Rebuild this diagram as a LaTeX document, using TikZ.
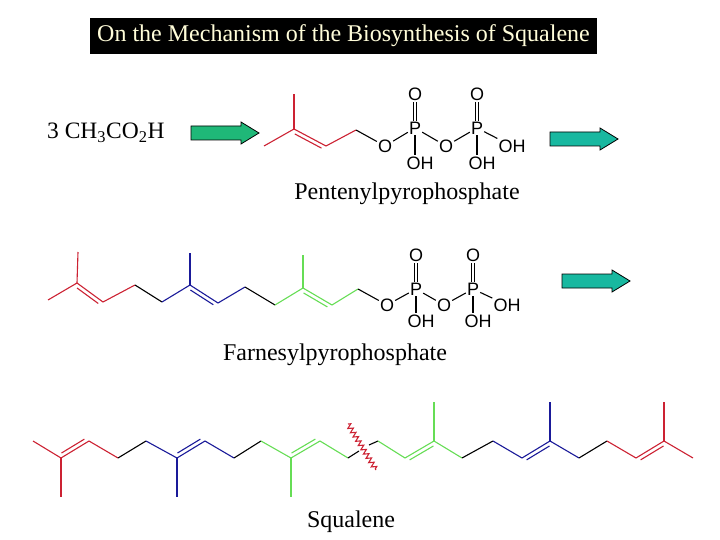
\documentclass[tikz,border=0pt]{standalone}
\usepackage{fontspec}
\setmainfont{Liberation Serif}
\newfontfamily\atomfont{Liberation Sans}
\usetikzlibrary{calc,decorations.pathmorphing}
\definecolor{cred}{HTML}{CC2233}
\definecolor{cblue}{HTML}{1A1A99}
\definecolor{cgreen}{HTML}{66DD55}
\definecolor{arrA}{HTML}{1FB878}
\definecolor{arrB}{HTML}{18B8A0}
\tikzset{
 atom/.style={font=\atomfont\fontsize{18}{18}\selectfont, inner sep=1pt},
 bond/.style={line width=1.1pt},
 blockarrow/.style={draw=black, line width=0.8pt},
 lbl/.style={font=\fontsize{24}{24}\selectfont}
}
\newcommand{\dbl}[4][black]{\draw[bond,#1,shorten <=3pt,shorten >=3pt] ($(#2)!4pt!#4:(#3)$) -- ($(#3)!4pt!-#4:(#2)$);}
\newcommand{\barrow}[3]{% color, left x, center y
 \draw[blockarrow, fill=#1] (#2,#3-7) -- ++(50,0) -- ++(0,-4) -- ++(18,11) -- ++(-18,11) -- ++(0,-4) -- ++(-50,0) -- cycle;}
\begin{document}
\begin{tikzpicture}[x=1pt,y=-1pt]
\useasboundingbox (0,0) rectangle (720,540);
% title
\node[fill=black, text=yellow!15, minimum width=507pt, minimum height=36pt, inner sep=0pt, font=\fontsize{24}{24}\selectfont] (title) at (343.5,36) {On the Mechanism of the Biosynthesis of Squalene};
% reagent
\node[font=\fontsize{23.5}{23.5}\selectfont, anchor=west, inner sep=0pt] (acid) at (47,133) {3 CH\textsubscript{3}CO\textsubscript{2}H};
\barrow{arrA}{191}{133}
\barrow{arrB}{550}{139}
\barrow{arrB}{562}{281}
% ===== Pentenyl pyrophosphate
\coordinate (a1) at (264,146); \coordinate (a2) at (294,129); \coordinate (a2m) at (294,94);
\coordinate (a3) at (326,146); \coordinate (a4) at (356,130);
\draw[bond,cred] (a1)--(a2)--(a3)--(a4); \draw[bond,cred] (a2)--(a2m);
\dbl[cred]{a2}{a3}{-90}
\node[atom] (aO1) at (385,146) {O};
\node[atom] (aP1) at (415,128) {P};
\node[atom] (aO1t) at (415,94) {O};
\node[atom] (aOH1) at (420,163) {OH};
\node[atom] (aO2) at (446,146) {O};
\node[atom] (aP2) at (477,128) {P};
\node[atom] (aO2t) at (477,94) {O};
\node[atom] (aOH2) at (482,163) {OH};
\node[atom] (aOH3) at (512,146) {OH};
\draw[bond] (a4)--(aO1); \draw[bond] (aO1)--(aP1)--(aO2)--(aP2)--(aOH3);
\draw[bond] (aP1)--(aOH1.north-|aP1); \draw[bond] (aP2)--(aOH2.north-|aP2);
\draw[bond,transform canvas={xshift=-1.7pt}] (aP1)--(aO1t); \draw[bond,transform canvas={xshift=1.7pt}] (aP1)--(aO1t);
\draw[bond,transform canvas={xshift=-1.7pt}] (aP2)--(aO2t); \draw[bond,transform canvas={xshift=1.7pt}] (aP2)--(aO2t);
\node[lbl] (pent) at (407,194) {Pentenylpyrophosphate};
% ===== Farnesyl pyrophosphate
\coordinate (f1) at (48,300); \coordinate (f2) at (77,283); \coordinate (f2m) at (78,252);
\coordinate (f3) at (103,302); \coordinate (f4) at (135,285); \coordinate (f5) at (162,302);
\coordinate (f6) at (190,285); \coordinate (f6m) at (190,253); \coordinate (f7) at (218,303);
\coordinate (f8) at (245,287); \coordinate (f9) at (275,305); \coordinate (f10) at (303,288);
\coordinate (f10m) at (303,255); \coordinate (f11) at (332,305); \coordinate (f12) at (358,289);
\draw[bond,cred] (f1)--(f2)--(f3)--(f4); \draw[bond,cred] (f2)--(f2m); \dbl[cred]{f2}{f3}{-90}
\draw[bond] (f4)--(f5);
\draw[bond,cblue] (f5)--(f6)--(f7)--(f8); \draw[bond,cblue] (f6)--(f6m); \dbl[cblue]{f6}{f7}{-90}
\draw[bond] (f8)--(f9);
\draw[bond,cgreen] (f9)--(f10)--(f11)--(f12); \draw[bond,cgreen] (f10)--(f10m); \dbl[cgreen]{f10}{f11}{-90}
\node[atom] (bO1) at (387,305) {O};
\node[atom] (bP1) at (416,289) {P};
\node[atom] (bO1t) at (416,255) {O};
\node[atom] (bOH1) at (421,321) {OH};
\node[atom] (bO2) at (444,305) {O};
\node[atom] (bP2) at (473,289) {P};
\node[atom] (bO2t) at (473,255) {O};
\node[atom] (bOH2) at (478,321) {OH};
\node[atom] (bOH3) at (507,305) {OH};
\draw[bond] (f12)--(bO1); \draw[bond] (bO1)--(bP1)--(bO2)--(bP2)--(bOH3);
\draw[bond] (bP1)--(bOH1.north-|bP1); \draw[bond] (bP2)--(bOH2.north-|bP2);
\draw[bond,transform canvas={xshift=-1.7pt}] (bP1)--(bO1t); \draw[bond,transform canvas={xshift=1.7pt}] (bP1)--(bO1t);
\draw[bond,transform canvas={xshift=-1.7pt}] (bP2)--(bO2t); \draw[bond,transform canvas={xshift=1.7pt}] (bP2)--(bO2t);
\node[lbl] (farn) at (335,355) {Farnesylpyrophosphate};
% ===== Squalene
\coordinate (s1) at (33,441); \coordinate (s2) at (61,458); \coordinate (s2m) at (61,497);
\coordinate (s3) at (89,441); \coordinate (s4) at (118,458); \coordinate (s5) at (146,441);
\coordinate (s6) at (177,458); \coordinate (s6m) at (177,497); \coordinate (s7) at (205,441);
\coordinate (s8) at (234,458); \coordinate (s9) at (261,441); \coordinate (s10) at (291,458);
\coordinate (s10m) at (291,497); \coordinate (s11) at (320,441); \coordinate (s12) at (348,458);
\coordinate (c1) at (359,451); \coordinate (c2) at (369,445); \coordinate (s13) at (378,441);
\coordinate (s14) at (405,458); \coordinate (s15) at (434,441); \coordinate (s15m) at (434,402);
\coordinate (s16) at (462,458); \coordinate (s17) at (493,441); \coordinate (s18) at (522,458);
\coordinate (s19) at (550,441); \coordinate (s19m) at (550,402); \coordinate (s20) at (579,458);
\coordinate (s21) at (607,441); \coordinate (s22) at (636,458); \coordinate (s23) at (664,441);
\coordinate (s23m) at (664,402); \coordinate (s24) at (693,458);
\coordinate (w1) at (348,424); \coordinate (w2) at (376,470);
\draw[bond,cred] (s1)--(s2)--(s3)--(s4); \draw[bond,cred] (s2)--(s2m); \dbl[cred]{s2}{s3}{90}
\draw[bond] (s4)--(s5);
\draw[bond,cblue] (s5)--(s6)--(s7)--(s8); \draw[bond,cblue] (s6)--(s6m); \dbl[cblue]{s6}{s7}{90}
\draw[bond] (s8)--(s9);
\draw[bond,cgreen] (s9)--(s10)--(s11)--(s12); \draw[bond,cgreen] (s10)--(s10m); \dbl[cgreen]{s10}{s11}{90}
\draw[bond] (s12)--(c1); \draw[bond] (c2)--(s13);
\draw[bond,cgreen] (s13)--(s14)--(s15)--(s16); \draw[bond,cgreen] (s15)--(s15m); \dbl[cgreen]{s14}{s15}{-90}
\draw[bond] (s16)--(s17);
\draw[bond,cblue] (s17)--(s18)--(s19)--(s20); \draw[bond,cblue] (s19)--(s19m); \dbl[cblue]{s18}{s19}{-90}
\draw[bond] (s20)--(s21);
\draw[bond,cred] (s21)--(s22)--(s23)--(s24); \draw[bond,cred] (s23)--(s23m); \dbl[cred]{s22}{s23}{-90}
\draw[line width=1.1pt,cred,decorate,decoration={zigzag,segment length=5pt,amplitude=2.5pt}] (w1)--(w2);
\node[lbl] (squal) at (351,522) {Squalene};
\end{tikzpicture}
\end{document}
